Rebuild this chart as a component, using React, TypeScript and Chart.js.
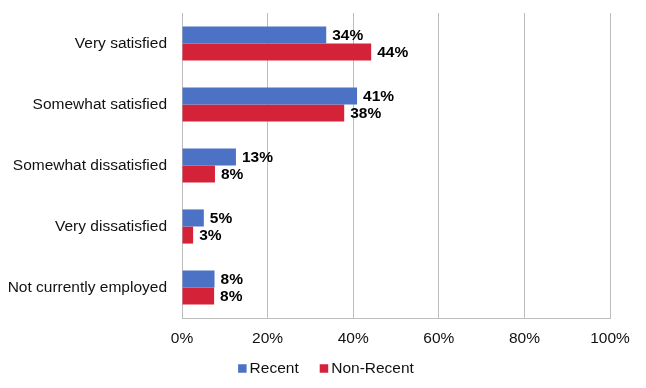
import React, { useEffect, useRef } from "react";
import { Chart, registerables } from "chart.js";

Chart.register(...registerables);

const categories = [
  "Very satisfied",
  "Somewhat satisfied",
  "Somewhat dissatisfied",
  "Very dissatisfied",
  "Not currently employed",
];
const seriesNames = ["Recent", "Non-Recent"];
const recentValues = [33.7, 40.9, 12.6, 5.1, 7.6];
const nonRecentValues = [44.2, 37.9, 7.7, 2.6, 7.5];
const xTicks = [0, 20, 40, 60, 80, 100];

const FONT = "'Liberation Sans', Arial, Helvetica, sans-serif";
const FS = 15.5;
const BLUE = "#4C72C5";
const RED = "#D42238";

const valueLabels = {
  id: "valueLabels",
  afterDatasetsDraw(chart: any) {
    const ctx = chart.ctx;
    ctx.save();
    ctx.font = `bold ${FS}px ${FONT}`;
    ctx.fillStyle = "#000";
    ctx.textBaseline = "middle";
    ctx.textAlign = "left";
    chart.data.datasets.forEach((ds: any, i: number) => {
      const meta = chart.getDatasetMeta(i);
      meta.data.forEach((el: any, j: number) => {
        const v = ds.data[j];
        ctx.fillText(Math.round(v) + "%", el.x + 6, el.y + 1);
      });
    });
    ctx.restore();
  },
};

const bottomLegend = {
  id: "bottomLegend",
  afterDraw(chart: any) {
    const ctx = chart.ctx;
    ctx.save();
    ctx.font = `${FS}px ${FONT}`;
    ctx.textBaseline = "middle";
    ctx.textAlign = "left";
    const box = 8.5;
    const gap = 3;
    const itemGap = 21;
    const items = chart.data.datasets.map((ds: any) => ({
      label: ds.label,
      color: ds.backgroundColor,
      w: ctx.measureText(ds.label).width,
    }));
    const total =
      items.reduce((s: number, it: any) => s + box + gap + it.w, 0) +
      itemGap * (items.length - 1);
    let x = chart.width / 2 + 3 - total / 2;
    const cy = 368.5;
    items.forEach((it: any) => {
      ctx.fillStyle = it.color;
      ctx.fillRect(x, cy - box / 2, box, box);
      x += box + gap;
      ctx.fillStyle = "#111";
      ctx.fillText(it.label, x, cy);
      x += it.w + itemGap;
    });
    ctx.restore();
  },
};

export default function App() {
  const ref = useRef<HTMLCanvasElement>(null);
  useEffect(() => {
    if (!ref.current) return;
    const chart = new Chart(ref.current, {
      type: "bar",
      data: {
        labels: categories,
        datasets: [
          {
            label: seriesNames[0],
            data: recentValues,
            backgroundColor: BLUE,
            categoryPercentage: 0.56,
            barPercentage: 1,
          },
          {
            label: seriesNames[1],
            data: nonRecentValues,
            backgroundColor: RED,
            categoryPercentage: 0.56,
            barPercentage: 1,
          },
        ],
      },
      options: {
        indexAxis: "y",
        animation: false,
        responsive: true,
        maintainAspectRatio: false,
        layout: { padding: { top: 13, right: 36, left: 0, bottom: 40 } },
        scales: {
          x: {
            min: 0,
            max: 100,
            afterBuildTicks: (scale: any) => {
              scale.ticks = xTicks.map((v) => ({ value: v }));
            },
            afterFit: (scale: any) => {
              scale.height = 30;
            },
            ticks: {
              padding: 11,
              color: "#111",
              font: { family: FONT, size: FS },
              callback: (v: any) => v + "%",
            },
            grid: { color: "#BDBDBD", lineWidth: 1, drawTicks: false },
            border: { display: true, color: "#BDBDBD" },
          },
          y: {
            afterFit: (scale: any) => {
              scale.width = 182;
            },
            ticks: {
              padding: 0,
              color: "#111",
              font: { family: FONT, size: FS },
            },
            grid: {
              display: true,
              drawOnChartArea: false,
              drawTicks: true,
              tickLength: 15,
              tickColor: "rgba(0,0,0,0)",
              color: "rgba(0,0,0,0)",
            },
            border: { display: true, color: "#BDBDBD" },
          },
        },
        plugins: {
          legend: { display: false },
          tooltip: { enabled: false },
        },
      },
      plugins: [valueLabels, bottomLegend],
    });
    return () => chart.destroy();
  }, []);
  return (
    <div style={{ position: "fixed", left: 0, top: 0, width: 646, height: 388, background: "#fff" }}>
      <canvas ref={ref} />
    </div>
  );
}
